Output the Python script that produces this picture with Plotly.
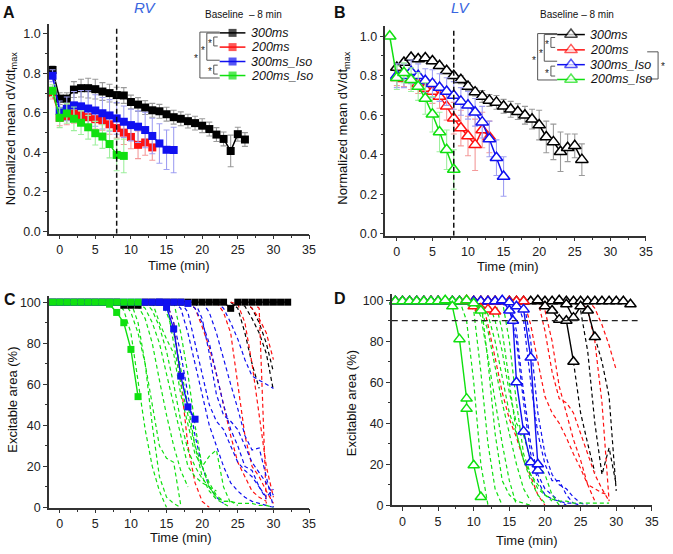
import plotly.graph_objects as go

W, H = 673, 554
FONT = "Liberation Sans, Arial, sans-serif"

# ---------------- colours ----------------
C_K, C_R, C_B, C_G = "#000000", "#ff1010", "#1010f0", "#10e010"
E_K, E_R, E_B, E_G = "#9a9a9a", "#f49a9a", "#a0a0f2", "#9eef9e"
series_names = ["300ms", "200ms", "300ms_Iso", "200ms_Iso"]

# ---------------- Panel A (RV) ----------------
a_x_k = list(range(-1, 27))
a_y_k = [0.817, 0.672, 0.672, 0.718, 0.725, 0.725, 0.72, 0.708, 0.70, 0.69, 0.688, 0.655, 0.642, 0.627,
         0.613, 0.608, 0.593, 0.578, 0.57, 0.558, 0.548, 0.535, 0.518, 0.49, 0.468, 0.407, 0.492, 0.465]
a_e_k = [0.02, 0.03, 0.03, 0.04, 0.045, 0.05, 0.05, 0.045, 0.045, 0.04, 0.04, 0.035, 0.035, 0.035,
         0.035, 0.035, 0.035, 0.035, 0.035, 0.035, 0.035, 0.035, 0.035, 0.035, 0.035, 0.08, 0.035, 0.035]
a_x_r = list(range(-1, 14))
a_y_r = [0.70, 0.575, 0.58, 0.597, 0.588, 0.578, 0.568, 0.562, 0.542, 0.523, 0.50, 0.478, 0.438, 0.45, 0.425]
a_e_r = [0.03, 0.04, 0.04, 0.05, 0.05, 0.05, 0.05, 0.05, 0.05, 0.05, 0.06, 0.06, 0.07, 0.065, 0.065]
a_x_b = list(range(-1, 17))
a_y_b = [0.788, 0.61, 0.62, 0.638, 0.633, 0.622, 0.612, 0.598, 0.587, 0.572, 0.555, 0.538, 0.53, 0.513,
         0.483, 0.445, 0.413, 0.412]
a_e_b = [0.03, 0.05, 0.06, 0.07, 0.08, 0.09, 0.08, 0.08, 0.08, 0.08, 0.08, 0.08, 0.08, 0.09, 0.09, 0.1, 0.1, 0.115]
a_x_g = list(range(-1, 10))
a_y_g = [0.712, 0.575, 0.597, 0.57, 0.55, 0.527, 0.497, 0.48, 0.442, 0.387, 0.382]
a_e_g = [0.03, 0.05, 0.05, 0.06, 0.06, 0.06, 0.06, 0.06, 0.07, 0.08, 0.085]

# ---------------- Panel B (LV) ----------------
b_x_k = list(range(0, 27))
b_y_k = [0.842, 0.867, 0.892, 0.885, 0.89, 0.875, 0.85, 0.825, 0.80, 0.78, 0.745, 0.717, 0.695, 0.675,
         0.665, 0.645, 0.63, 0.618, 0.60, 0.58, 0.55, 0.49, 0.465, 0.415, 0.435, 0.445, 0.375]
b_e_k = [0.02, 0.015, 0.015, 0.015, 0.015, 0.015, 0.015, 0.015, 0.015, 0.02, 0.02, 0.02, 0.03, 0.03,
         0.035, 0.035, 0.04, 0.04, 0.045, 0.05, 0.075, 0.08, 0.09, 0.1, 0.07, 0.06, 0.08]
b_x_r = list(range(0, 14))
b_y_r = [0.79, 0.785, 0.78, 0.76, 0.735, 0.72, 0.695, 0.645, 0.585, 0.535, 0.495, 0.45, 0.525, 0.49]
b_e_r = [0.04, 0.04, 0.05, 0.05, 0.05, 0.06, 0.06, 0.07, 0.08, 0.09, 0.1, 0.13, 0.09, 0.08]
b_x_b = list(range(0, 16))
b_y_b = [0.80, 0.80, 0.82, 0.80, 0.775, 0.76, 0.74, 0.72, 0.70, 0.67, 0.65, 0.615, 0.565, 0.48, 0.385, 0.29]
b_e_b = [0.06, 0.06, 0.06, 0.06, 0.06, 0.07, 0.07, 0.07, 0.07, 0.07, 0.07, 0.07, 0.08, 0.09, 0.09, 0.1]
b_x_g = list(range(-1, 9))
b_y_g = [1.0, 0.79, 0.815, 0.78, 0.745, 0.685, 0.605, 0.515, 0.425, 0.325]
b_e_g = [0, 0.06, 0.05, 0.06, 0.07, 0.08, 0.09, 0.1, 0.1, 0.1]

baseline_time = 8

# ---------------- Panel C (RV excitable area) ----------------
c_row_k_x = list(range(-1, 33))
c_row_k_y = [100] * 10 + [98.5, 98.5, 98.5] + [100] * 12 + [97] + [100] * 8
c_row_b_x = list(range(-1, 19))
c_row_b_y = [100] * 19 + [99.4]
c_row_g_x = list(range(-1, 12))
c_row_g_y = [100] * 13
c_dec_b_x = [14, 15, 16, 17, 18, 19]
c_dec_b_y = [100, 97.5, 87, 64, 49, 43]
c_dec_g_x = [7, 8, 9, 10, 11]
c_dec_g_y = [99, 95, 90, 77, 54]

c_dash_green = [
    ([8, 9, 10, 11, 12, 13, 14, 15], [100, 96, 85, 62, 38, 20, 8, 0]),
    ([9, 10, 11, 12, 13, 14, 15, 16, 17], [100, 95, 85, 70, 50, 30, 24, 22, 1]),
    ([10, 11, 12, 13, 14, 15, 16, 17, 18], [100, 98, 92, 80, 62, 45, 30, 18, 10]),
    ([11, 12, 13, 14, 15, 16, 17, 18, 19, 20, 21, 22], [100, 97, 90, 80, 65, 50, 35, 20, 15, 12, 10, 8]),
    ([12, 13, 14, 15, 16, 17, 18, 19, 20, 21, 22], [100, 96, 88, 76, 60, 42, 28, 20, 14, 10, 5]),
    ([13, 14, 15, 16, 17, 18, 19, 20, 21, 22, 23, 24], [100, 90, 82, 75, 55, 40, 26, 20, 25, 28, 10, 2]),
    ([14, 15, 16, 17, 18, 19, 20, 21, 22, 23, 24], [100, 95, 85, 68, 50, 30, 15, 8, 4, 2, 0]),
    ([15, 16, 17, 18, 19, 20, 21, 22, 23, 24, 25], [100, 80, 60, 45, 30, 20, 12, 6, 3, 3, 1]),
    ([16, 17, 18, 19, 20, 21, 22, 23, 24, 25, 26, 27, 28, 29, 30], [100, 85, 65, 40, 20, 10, 5, 3, 3, 2, 2, 2, 1, 1, 0]),
    ([10, 11, 12, 13, 14, 15, 16, 17], [100, 90, 70, 40, 15, 5, 2, 0]),
]
c_dash_blue = [
    ([15, 16, 17, 18, 19, 20, 21, 22, 23], [100, 90, 75, 55, 35, 20, 10, 5, 2]),
    ([16, 17, 18, 19, 20, 21, 22, 23, 24, 25, 26, 27, 28, 29, 30], [100, 97, 85, 70, 55, 40, 30, 20, 12, 8, 5, 3, 2, 1, 0]),
    ([17, 18, 19, 20, 21, 22, 23, 24, 25, 26, 27, 28, 29], [100, 95, 80, 65, 50, 42, 38, 30, 22, 18, 15, 10, 4]),
    ([18, 19, 20, 21, 22, 23, 24, 25, 26, 27, 28, 29, 30], [100, 97, 90, 80, 65, 50, 38, 30, 20, 18, 10, 5, 9]),
    ([20, 21, 22, 23, 24, 25, 26, 27, 28, 29, 30], [100, 95, 85, 72, 60, 48, 35, 28, 29, 15, 0]),
    ([22, 23, 24, 25, 26, 27, 28, 29, 30], [100, 97, 90, 82, 72, 64, 62, 60, 58]),
    ([19, 20, 21, 22, 23, 24, 25, 26, 27, 28, 29, 30], [100, 92, 75, 55, 45, 42, 38, 30, 22, 17, 12, 6]),
]
c_dash_red = [
    ([15, 16, 17, 18, 19, 20, 21], [100, 90, 62, 30, 12, 3, 0]),
    ([18, 19, 20, 21, 22, 23, 24, 25, 26, 27, 28, 29], [100, 97, 88, 78, 65, 50, 35, 22, 15, 8, 5, 3]),
    ([22, 23, 24, 25, 26, 27, 28, 29, 30], [100, 95, 85, 60, 35, 20, 15, 8, 2]),
    ([24, 25, 26, 27, 28, 29, 30], [100, 99, 90, 70, 45, 20, 5]),
    ([27, 28, 28.5, 29], [100, 97, 50, 2]),
    ([26, 27, 28, 29, 30], [100, 97, 92, 85, 72]),
]
c_dash_black = [
    ([24, 25, 26, 27, 28], [100, 97, 85, 70, 58]),
    ([25, 26, 27, 28, 29, 30], [100, 98, 92, 85, 75, 57]),
    ([26, 27, 28, 29, 30], [100, 97, 90, 80, 66]),
]

# ---------------- Panel D (LV excitable area) ----------------
threshold = 90
d_row_k_x = list(range(-1, 33))
d_row_k_y = [99.5] * 33 + [98]
d_row_r_x = list(range(-1, 18))
d_row_r_y = [99.5] * 19
d_row_b_x = list(range(-1, 15))
d_row_b_y = [99.5] * 16
d_row_g_x = list(range(-1, 10))
d_row_g_y = [99.5] * 11
d_dec_g1_x = [6, 7, 8, 9, 9, 10, 11]
d_dec_g1_y = [100, 97, 81, 52, 47, 19.5, 4]
d_dec_g2_x = [9, 10, 11]
d_dec_g2_y = [100, 98.5, 95]
d_dec_r_x = [9, 10, 11, 12, 13]
d_dec_r_y = [100, 97, 96, 95.5, 94.5]
d_dec_b1_x = [14, 15, 15.5, 16, 17, 18, 19]
d_dec_b1_y = [100, 95, 90, 60, 36, 21, 17]
d_dec_b2_x = [15, 16, 17, 18, 19]
d_dec_b2_y = [99, 97, 95.5, 72, 20]
d_dec_k1_x = [19, 20, 21, 22, 23, 24]
d_dec_k1_y = [100, 97, 95, 90.5, 90, 70]
d_dec_k2_x = [22, 23, 24, 25, 26, 27]
d_dec_k2_y = [100, 98, 91.5, 97, 95, 82]

d_dash_green = [
    ([8, 9, 10, 11, 12], [100, 90, 60, 20, 0]),
    ([9, 10, 11, 12, 13, 14], [100, 95, 65, 30, 8, 0]),
    ([10, 11, 12, 13, 14, 15, 16], [100, 92, 72, 50, 30, 12, 0]),
    ([10, 11, 12, 13, 14, 15, 16, 17, 18], [100, 96, 85, 68, 50, 35, 20, 8, 2]),
    ([11, 12, 13, 14, 15, 16, 17, 18, 19, 20], [100, 93, 80, 62, 45, 35, 22, 12, 5, 1]),
    ([12, 13, 14, 15, 16, 17, 18, 19, 20, 21, 22], [100, 90, 75, 55, 40, 34, 22, 20, 15, 5, 0]),
    ([13, 14, 15, 16, 17, 18, 19, 20, 21], [100, 85, 60, 35, 22, 15, 10, 5, 2]),
    ([14, 15, 16, 17, 18, 19, 20, 21, 22, 23, 24, 25, 26, 27, 28, 29], [100, 80, 50, 25, 15, 8, 5, 3, 2, 2, 1, 1, 1, 1, 1, 1]),
    ([11, 12, 13, 14, 15, 16, 17, 18], [100, 70, 35, 12, 5, 2, 1, 0]),
]
d_dash_blue = [
    ([15, 16, 17, 18, 19, 20, 21, 22, 23], [100, 85, 55, 30, 15, 8, 5, 2, 0]),
    ([16, 17, 18, 19, 20, 21, 22, 23, 24], [100, 90, 60, 35, 20, 12, 12, 5, 1]),
    ([17, 18, 19, 20, 21, 22, 23, 24, 25, 26], [100, 80, 45, 25, 15, 10, 8, 4, 1, 0]),
    ([15, 16, 17, 18, 19, 20, 21, 22, 23, 24, 25], [97, 80, 50, 25, 12, 5, 3, 2, 1, 1, 0]),
]
d_dash_red = [
    ([11.5, 12, 13, 14, 15, 16, 17, 18, 19, 20], [95, 88, 72, 55, 42, 33, 22, 14, 5, 0]),
    ([17, 18, 19, 20, 21, 22, 23, 24, 25, 26, 27], [100, 88, 70, 53, 45, 40, 33, 25, 18, 10, 2]),
    ([19, 20, 21, 22, 23, 24, 25, 26, 27, 28, 29], [100, 85, 65, 52, 50, 45, 35, 25, 15, 8, 2]),
    ([20, 21, 22, 23, 24, 25, 26, 27, 28, 29], [95, 80, 58, 45, 32, 22, 10, 8, 6, 5]),
    ([26, 27, 28, 29, 30], [100, 96, 88, 78, 66]),
    ([25, 26, 27, 28, 29], [100, 95, 80, 50, 2]),
]
d_dash_black = [
    ([24, 25, 26, 27], [70, 45, 30, 16]),
    ([27, 28, 29, 30], [82, 70, 53, 7]),
    ([25, 26, 27, 28, 29, 30], [95, 75, 40, 15, 28, 10]),
]

# ================= build figure =================
fig = go.Figure()


def px_x(p):
    return p / W


def px_y(p):
    return 1 - p / H


def mk(symbol, size, color, filled):
    if filled:
        return dict(symbol=symbol, size=size, color=color, line=dict(width=0))
    return dict(symbol=symbol, size=size, color="white", line=dict(color=color, width=1.5))


def add_err_series(x, y, e, color, ecolor, xa, ya, symbol, size, filled=True):
    fig.add_trace(go.Scatter(
        x=x, y=y, mode="lines+markers", xaxis=xa, yaxis=ya, showlegend=False, cliponaxis=False,
        line=dict(color=color, width=1.5), marker=mk(symbol, size, color, filled),
        error_y=dict(type="data", array=e, visible=True, color=ecolor, thickness=1.1, width=3)))


# Panel A
for x, y, e, c, ec in [(a_x_k, a_y_k, a_e_k, C_K, E_K), (a_x_r, a_y_r, a_e_r, C_R, E_R),
                       (a_x_b, a_y_b, a_e_b, C_B, E_B), (a_x_g, a_y_g, a_e_g, C_G, E_G)]:
    add_err_series(x, y, e, c, ec, "x", "y", "square", 8)

# Panel B
for x, y, e, c, ec in [(b_x_k, b_y_k, b_e_k, C_K, E_K), (b_x_r, b_y_r, b_e_r, C_R, E_R),
                       (b_x_b, b_y_b, b_e_b, C_B, E_B), (b_x_g, b_y_g, b_e_g, C_G, E_G)]:
    add_err_series(x, y, e, c, ec, "x2", "y2", "triangle-up", 11, filled=False)


def add_dashed(groups, color, xa, ya):
    for x, y in groups:
        fig.add_trace(go.Scatter(x=x, y=y, mode="lines", xaxis=xa, yaxis=ya, showlegend=False,
                                 line=dict(color=color, width=1.2, dash="4px,3px")))


def add_solid(x, y, color, xa, ya, symbol, size, filled=True):
    fig.add_trace(go.Scatter(
        x=x, y=y, mode="lines+markers", xaxis=xa, yaxis=ya, showlegend=False, cliponaxis=False,
        line=dict(color=color, width=1.4), marker=mk(symbol, size, color, filled)))


# Panel C
add_dashed(c_dash_black, C_K, "x3", "y3")
add_dashed(c_dash_red, C_R, "x3", "y3")
add_dashed(c_dash_blue, C_B, "x3", "y3")
add_dashed(c_dash_green, C_G, "x3", "y3")
add_solid(c_row_k_x, c_row_k_y, C_K, "x3", "y3", "square", 7)
add_solid(c_row_b_x, c_row_b_y, C_B, "x3", "y3", "square", 7)
add_solid(c_row_g_x, c_row_g_y, C_G, "x3", "y3", "square", 7)
add_solid(c_dec_b_x, c_dec_b_y, C_B, "x3", "y3", "square", 7)
add_solid(c_dec_g_x, c_dec_g_y, C_G, "x3", "y3", "square", 7)

# Panel D
add_dashed(d_dash_black, C_K, "x4", "y4")
add_dashed(d_dash_red, C_R, "x4", "y4")
add_dashed(d_dash_blue, C_B, "x4", "y4")
add_dashed(d_dash_green, C_G, "x4", "y4")
TRI = "triangle-up"
add_solid(d_row_k_x, d_row_k_y, C_K, "x4", "y4", TRI, 10, False)
add_solid(d_row_r_x, d_row_r_y, C_R, "x4", "y4", TRI, 10, False)
add_solid(d_row_b_x, d_row_b_y, C_B, "x4", "y4", TRI, 10, False)
add_solid(d_row_g_x, d_row_g_y, C_G, "x4", "y4", TRI, 10, False)
add_solid(d_dec_k1_x, d_dec_k1_y, C_K, "x4", "y4", TRI, 10, False)
add_solid(d_dec_k2_x, d_dec_k2_y, C_K, "x4", "y4", TRI, 10, False)
add_solid(d_dec_r_x, d_dec_r_y, C_R, "x4", "y4", TRI, 10, False)
add_solid(d_dec_b1_x, d_dec_b1_y, C_B, "x4", "y4", TRI, 10, False)
add_solid(d_dec_b2_x, d_dec_b2_y, C_B, "x4", "y4", TRI, 10, False)
add_solid(d_dec_g2_x, d_dec_g2_y, C_G, "x4", "y4", TRI, 10, False)
add_solid(d_dec_g1_x, d_dec_g1_y, C_G, "x4", "y4", TRI, 10, False)

# ---------------- legends (drawn on a pixel overlay axis) ----------------
leg_colors = [C_K, C_R, C_B, C_G]
leg_A_y = [33.3, 47.7, 62.3, 76.5]
leg_B_y = [35, 50.5, 65.5, 80.5]
annotations = []
for i, name in enumerate(series_names):
    ya, yb = leg_A_y[i], leg_B_y[i]
    c = leg_colors[i]
    fig.add_trace(go.Scatter(x=[222, 235, 248], y=[ya] * 3, xaxis="x5", yaxis="y5", mode="lines+markers",
                             showlegend=False, line=dict(color=c, width=1.5),
                             marker=dict(symbol="square", size=[0, 8, 0], color=c, line=dict(width=0))))
    fig.add_trace(go.Scatter(x=[563, 577, 591], y=[yb] * 3, xaxis="x5", yaxis="y5", mode="lines+markers",
                             showlegend=False, line=dict(color=c, width=1.5),
                             marker=dict(symbol="triangle-up", size=[0, 11, 0], color="white",
                                         line=dict(color=c, width=1.5))))
    annotations.append(dict(x=px_x(252), y=px_y(ya), xref="paper", yref="paper", text=name, showarrow=False,
                            xanchor="left", yanchor="middle",
                            font=dict(family=FONT, size=12.5, color="#111", style="italic")))
    annotations.append(dict(x=px_x(594), y=px_y(yb), xref="paper", yref="paper", text=name, showarrow=False,
                            xanchor="left", yanchor="middle",
                            font=dict(family=FONT, size=12.5, color="#111", style="italic")))

shapes = []


def bracket(xv, y0, y1, xr, star_x, star_y):
    col = "#555"
    for (ax0, ax1, ay0, ay1) in [(xv, xv, y0, y1), (xv, xr, y0, y0), (xv, xr, y1, y1)]:
        shapes.append(dict(type="line", xref="paper", yref="paper", x0=px_x(ax0), x1=px_x(ax1),
                           y0=px_y(ay0), y1=px_y(ay1), line=dict(color=col, width=1)))
    annotations.append(dict(x=px_x(star_x), y=px_y(star_y), xref="paper", yref="paper", text="*", showarrow=False,
                            xanchor="center", yanchor="middle", font=dict(family=FONT, size=10, color="#222")))


bracket(202, 32.5, 79, 222, 198, 59)
bracket(209, 33.5, 61, 222, 205.5, 51)
bracket(216, 37.5, 46.5, 220, 212, 44)
bracket(216, 66, 75, 220, 212, 72)
bracket(543.3, 34, 81, 563, 539.5, 61)
bracket(550, 35, 62, 563, 546.5, 54)
bracket(556.7, 38, 48, 561, 553, 45.5)
bracket(556.7, 67, 77, 561, 553, 74.5)
bracket(665, 52.5, 80, 654, 669.5, 67)

# baseline / threshold reference lines
shapes.append(dict(type="line", xref="x", yref="y", x0=baseline_time, x1=baseline_time, y0=-0.012, y1=1.03,
                   line=dict(color="#111", width=1.5, dash="5px,3px")))
shapes.append(dict(type="line", xref="x2", yref="y2", x0=baseline_time, x1=baseline_time, y0=-0.01, y1=1.03,
                   line=dict(color="#111", width=1.5, dash="5px,3px")))
shapes.append(dict(type="line", xref="x4", yref="y4", x0=-1.5, x1=33, y0=threshold, y1=threshold,
                   line=dict(color="#222", width=1.3, dash="6px,4px")))


# ---------------- text annotations ----------------
def txt(x, y, t, size=13, color="#111", weight="normal", style="normal", angle=0):
    annotations.append(dict(x=px_x(x), y=px_y(y), xref="paper", yref="paper", text=t, showarrow=False,
                            xanchor="center", yanchor="middle", textangle=angle,
                            font=dict(family=FONT, size=size, color=color, weight=weight, style=style)))


txt(9, 13, "A", 16, weight="bold")
txt(344, 13, "B", 16, weight="bold")
txt(10, 303, "C", 16, weight="bold")
txt(344, 302, "D", 16, weight="bold")
txt(147, 8, "RV", 15, color="#3a66e0", style="italic")
txt(466, 8, "LV", 15, color="#3a66e0", style="italic")
txt(246, 15, "Baseline  \u2013 8 min", 10)
txt(583, 15, "Baseline \u2013 8 min", 10)
txt(181, 269, "Time (min)", 13)
txt(513, 270, "Time (min)", 13)
txt(183, 544, "Time (min)", 13)
txt(533, 547, "Time (min)", 13)
txt(11, 130, "Normalized mean dV/dt<sub>max</sub>", 13, angle=-90)
txt(347, 130, "Normalized mean dV/dt<sub>max</sub>", 13, angle=-90)
txt(13, 405, "Excitable area (%)", 13, angle=-90)
txt(356, 408, "Excitable area (%)", 13, angle=-90)


# ---------------- axes ----------------
def ax_style(dtick, minor_dtick, rng, domain, anchor, fmt=None):
    d = dict(range=rng, domain=domain, anchor=anchor, dtick=dtick, tick0=0, showline=True, linecolor="#333",
             linewidth=1.5, ticks="outside", ticklen=4, tickwidth=1.2, tickcolor="#333", showgrid=False,
             zeroline=False, tickfont=dict(family=FONT, size=12.5, color="#222"),
             minor=dict(dtick=minor_dtick, tick0=0, ticks="outside", ticklen=2.5, tickwidth=1, tickcolor="#333",
                        showgrid=False), fixedrange=True)
    if fmt:
        d["tickformat"] = fmt
    return d


layout_axes = dict(
    xaxis=ax_style(5, 2.5, [-1.5, 35], [px_x(49.5), px_x(312.3)], "y"),
    yaxis=ax_style(0.2, 0.1, [-0.012, 1.05], [px_y(236.7), px_y(24.3)], "x", ".1f"),
    xaxis2=ax_style(5, 2.5, [-1.6, 35], [px_x(389.5), px_x(652.7)], "y2"),
    yaxis2=ax_style(0.2, 0.1, [-0.01, 1.05], [px_y(238.7), px_y(26.7)], "x2", ".1f"),
    xaxis3=ax_style(5, 2.5, [-1.5, 35], [px_x(49.5), px_x(312.3)], "y3"),
    yaxis3=ax_style(20, 10, [0, 103], [px_y(514), px_y(299.8)], "x3"),
    xaxis4=ax_style(5, 2.5, [-1.5, 35], [px_x(395.9), px_x(658.7)], "y4"),
    yaxis4=ax_style(20, 10, [0, 103], [px_y(511.7), px_y(297.8)], "x4"),
    xaxis5=dict(range=[0, W], domain=[0, 1], anchor="y5", visible=False, fixedrange=True),
    yaxis5=dict(range=[H, 0], domain=[0, 1], anchor="x5", visible=False, fixedrange=True),
)

fig.update_layout(
    width=W, height=H, margin=dict(l=0, r=0, t=0, b=0), autosize=False,
    paper_bgcolor="white", plot_bgcolor="rgba(0,0,0,0)", showlegend=False,
    annotations=annotations, shapes=shapes, **layout_axes)

fig.write_html("out.html", config=dict(displayModeBar=False),
               post_script="document.body.style.margin='0';document.body.style.padding='0';"
                           "document.body.style.overflow='hidden';")
